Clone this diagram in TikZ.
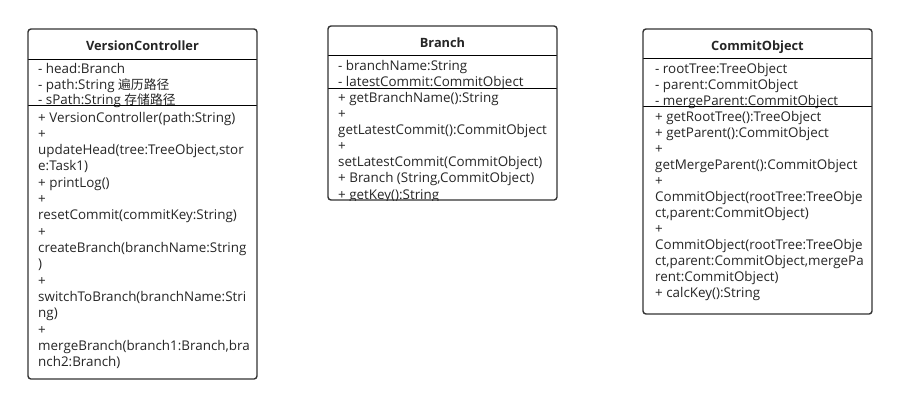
\documentclass[tikz,border=0pt]{standalone}
\usepackage{fontspec}
\setmainfont{Open Sans}
\newfontfamily\cjk{Noto Sans CJK SC}
\begin{document}
\begin{tikzpicture}[x=1pt,y=-1pt,
  umlbox/.style={draw=black!80,line width=1.4pt,rounded corners=3pt},
  sepline/.style={draw=black,line width=0.9pt},
  txt/.style={anchor=base west,inner sep=0pt,font=\fontsize{13.4}{16}\selectfont,text=black!85},
  title/.style={anchor=base,inner sep=0pt,font=\fontsize{12.8}{16}\selectfont\bfseries,text=black!85}]
\useasboundingbox (0,0) rectangle (897,416);
\fill[white] (0,0) rectangle (897,416);

% ---------- VersionController ----------
\begin{scope}
\clip[rounded corners=3pt] (28,29) rectangle (257,379);
\node[title] (vcT) at (142.5,50) {VersionController};
\node[txt] (vcA1) at (38,73) {- head:Branch};
\node[txt] (vcA2) at (38,89) {- path:String {\cjk\fontsize{12.8}{16}\selectfont 遍历路径}};
\node[txt] (vcA3) at (38,104.5) {- sPath:String {\cjk\fontsize{12.8}{16}\selectfont 存储路径}};
\foreach \t [count=\i from 0] in {%
  + VersionController(path:String),
  +,
  updateHead(tree:TreeObject{,}stor,
  e:Task1),
  + printLog(),
  +,
  resetCommit(commitKey:String),
  +,
  createBranch(branchName:String,
  ),
  +,
  switchToBranch(branchName:Stri,
  ng),
  +,
  mergeBranch(branch1:Branch{,}bra,
  nch2:Branch)}
  \node[txt] (vcM\i) at (38,122+16.33*\i) {\t};
\end{scope}
\draw[sepline] (28,59) -- (257,59);
\draw[sepline] (28,105) -- (257,105);
\draw[umlbox] (28,29) rectangle (257,379);

% ---------- Branch ----------
\begin{scope}
\clip[rounded corners=3pt] (328,26) rectangle (557,200);
\node[title] (brT) at (442.5,47) {Branch};
\node[txt] (brA1) at (338,70) {- branchName:String};
\node[txt] (brA2) at (338,86) {- latestCommit:CommitObject};
\foreach \t [count=\i from 0] in {%
  + getBranchName():String,
  +,
  getLatestCommit():CommitObject,
  +,
  setLatestCommit(CommitObject),
  + Branch (String{,}CommitObject),
  + getKey():String}
  \node[txt] (brM\i) at (338,102+16.17*\i) {\t};
\end{scope}
\draw[sepline] (328,55) -- (557,55);
\draw[sepline] (328,88) -- (557,88);
\draw[umlbox] (328,26) rectangle (557,200);

% ---------- CommitObject ----------
\begin{scope}
\clip[rounded corners=3pt] (643,29) rectangle (872,314);
\node[title] (coT) at (757.5,50) {CommitObject};
\node[txt] (coA1) at (655,73) {- rootTree:TreeObject};
\node[txt] (coA2) at (655,89) {- parent:CommitObject};
\node[txt] (coA3) at (655,105) {- mergeParent:CommitObject};
\foreach \t [count=\i from 0] in {%
  + getRootTree():TreeObject,
  + getParent():CommitObject,
  +,
  getMergeParent():CommitObject,
  +,
  CommitObject(rootTree:TreeObje,
  ct{,}parent:CommitObject),
  +,
  CommitObject(rootTree:TreeObje,
  ct{,}parent:CommitObject{,}mergePa,
  rent:CommitObject),
  + calcKey():String}
  \node[txt] (coM\i) at (655,121+16*\i) {\t};
\end{scope}
\draw[sepline] (643,58) -- (872,58);
\draw[sepline] (643,106) -- (872,106);
\draw[umlbox] (643,29) rectangle (872,314);
\end{tikzpicture}
\end{document}
